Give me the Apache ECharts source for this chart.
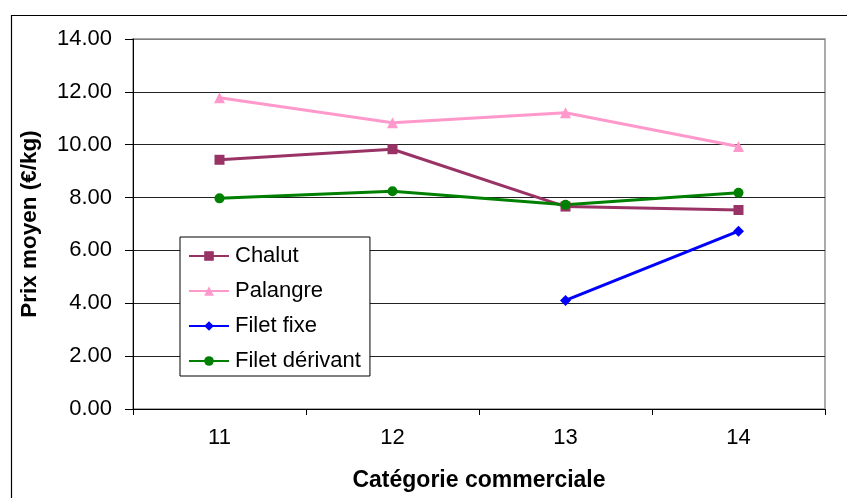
<!DOCTYPE html>
<html>
<head>
<meta charset="utf-8">
<script src="https://cdn.jsdelivr.net/npm/echarts@6/dist/echarts.min.js"></script>
<style>
html,body{margin:0;padding:0;background:#fff;}
#chart{width:847px;height:498px;}
</style>
</head>
<body>
<div id="chart"></div>
<script>
const categories = ['11', '12', '13', '14'];
const chalut = [9.43, 9.83, 7.66, 7.53];
const palangre = [11.78, 10.83, 11.21, 9.93];
const filetFixe = [null, null, 4.11, 6.73];
const filetDerivant = [7.97, 8.24, 7.73, 8.18];
const seriesNames = ['Chalut', 'Palangre', 'Filet fixe', 'Filet dérivant'];

const FONT = '"Liberation Sans", Arial, sans-serif';
const chart = echarts.init(document.getElementById('chart'), null, {renderer: 'canvas'});

function mk(name, data, color, symbol, size) {
  return {
    name: name, type: 'line', data: data,
    symbol: symbol, symbolSize: size,
    showAllSymbol: true, connectNulls: false,
    lineStyle: {color: color, width: 3},
    itemStyle: {color: color},
    emphasis: {disabled: true},
    animation: false
  };
}

chart.setOption({
  animation: false,
  backgroundColor: '#fff',
  textStyle: {fontFamily: FONT},
  graphic: [{
    type: 'rect', left: 9, top: 13, z: -1,
    shape: {x: 0, y: 0, width: 900, height: 600},
    style: {fill: 'none', stroke: '#000', lineWidth: 1.2}
  }],
  grid: {
    left: 133, top: 39, width: 692, height: 370,
    show: true, borderColor: '#909090', borderWidth: 1.5, backgroundColor: 'transparent'
  },
  legend: {
    orient: 'vertical', left: 180, top: 237,
    data: seriesNames,
    itemWidth: 40, itemHeight: 12, itemGap: 11,
    padding: [7, 9, 3, 8],
    backgroundColor: '#fff', borderColor: '#000', borderWidth: 1,
    borderRadius: 0,
    textStyle: {fontFamily: FONT, fontSize: 22, color: '#000', lineHeight: 24, padding: [0, 0, 0, 1]},
    selectedMode: false
  },
  xAxis: {
    type: 'category', data: categories, boundaryGap: true,
    name: 'Catégorie commerciale', nameLocation: 'middle', nameGap: 60,
    nameTextStyle: {fontFamily: FONT, fontSize: 23, fontWeight: 'bold', color: '#000'},
    axisLine: {lineStyle: {color: '#000', width: 1}},
    axisTick: {show: true, length: 6, lineStyle: {color: '#000'}},
    axisLabel: {fontFamily: FONT, fontSize: 22, color: '#000', margin: 18},
    splitLine: {show: false}
  },
  yAxis: {
    type: 'value', min: 0, max: 14, interval: 2,
    name: 'Prix moyen (€/kg)', nameLocation: 'middle', nameGap: 92,
    nameTextStyle: {fontFamily: FONT, fontSize: 22.5, fontWeight: 'bold', color: '#000'},
    axisLine: {show: true, lineStyle: {color: '#000', width: 1}},
    axisTick: {show: true, length: 8, lineStyle: {color: '#000'}},
    axisLabel: {fontFamily: FONT, fontSize: 22, color: '#000', margin: 21,
      formatter: v => v.toFixed(2)},
    splitLine: {show: true, lineStyle: {color: ['#000', '#222', '#222', '#222', '#222', '#222', '#222', '#808080'], width: 1}}
  },
  series: [
    mk(seriesNames[0], chalut, '#993366', 'rect', 10),
    mk(seriesNames[1], palangre, '#FF99CC', 'triangle', 11),
    mk(seriesNames[2], filetFixe, '#0000FF', 'diamond', 11),
    mk(seriesNames[3], filetDerivant, '#008000', 'circle', 10)
  ]
});
</script>
</body>
</html>
